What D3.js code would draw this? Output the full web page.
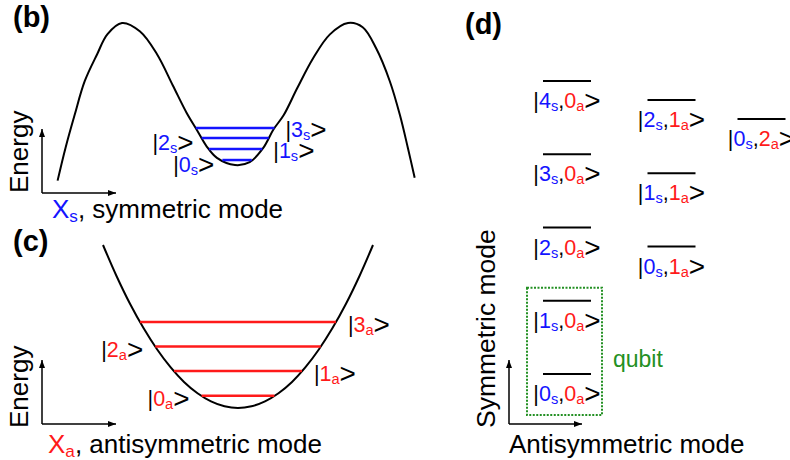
<!DOCTYPE html>
<html lang="en">
<head>
<meta charset="utf-8">
<style>
  body { margin: 0; background: #fff; }
  svg { display: block; background: #fff; }
  text { font-family: "Liberation Sans", Arial, sans-serif; }
</style>
<script src="https://cdn.jsdelivr.net/npm/d3@7/dist/d3.min.js"></script>
<title>Symmetric / antisymmetric modes</title>
</head>
<body>
<svg id="fig" width="790" height="460"></svg>
<script>
// (b) double-well potential of the symmetric mode
var wellX = [-1.57, -1.50, -1.42, -1.33, -1.22, -1.13, -1.00, -0.84, -0.69, -0.55, -0.43, -0.34, -0.25, -0.16, 0,
             0.13, 0.25, 0.34, 0.43, 0.55, 0.69, 0.84, 1.00, 1.13, 1.25, 1.37, 1.46, 1.53, 1.59];
var wellE = [-0.11, 0.12, 0.35, 0.59, 0.78, 0.92, 1.00, 0.94, 0.78, 0.56, 0.37, 0.25, 0.13, 0.05, 0,
             0.02, 0.12, 0.25, 0.35, 0.54, 0.75, 0.92, 1.00, 0.97, 0.82, 0.59, 0.35, 0.12, -0.09];
var symLevels = [0.035, 0.113, 0.19, 0.26];        // |0s> .. |3s>

// (c) harmonic potential of the antisymmetric mode (energy in units of hbar*w_a)
var bowlX = [-1, -0.9, -0.8, -0.7, -0.6, -0.5, -0.4, -0.3, -0.2, -0.1, 0, 0.1, 0.2, 0.3, 0.4, 0.5, 0.6, 0.7, 0.8, 0.9, 1];
var bowlE = [6.63, 5.37, 4.24, 3.25, 2.39, 1.66, 1.06, 0.60, 0.27, 0.07, 0, 0.07, 0.27, 0.60, 1.06, 1.66, 2.39, 3.25, 4.24, 5.37, 6.63];
var antiLevels = [0.5, 1.5, 2.5, 3.5];              // |0a> .. |3a>

// (d) two-mode states |ns, na>
var stateS = [0, 1, 2, 3, 4, 0, 1, 2, 0];
var stateA = [0, 0, 0, 0, 0, 1, 1, 1, 2];
var freqRatio = 1.74;                                // w_a / w_s

var BLUE = "#1414ff", RED = "#ff1a1a", GREEN = "#239023";
var KET = 21.5;

var svg = d3.select("#fig");

svg.append("defs").append("marker")
    .attr("id", "arr")
    .attr("markerUnits", "userSpaceOnUse")
    .attr("markerWidth", 9).attr("markerHeight", 8)
    .attr("refX", 8).attr("refY", 4)
    .attr("orient", "auto")
  .append("path")
    .attr("d", "M0,1 L8,4 L0,7 z")
    .attr("fill", "#000");

// writes a ket as one text element; parts = [text, colour, kind] with kind "sub" or "big"
function ket(g, x, y, parts, anchor) {
    var t = g.append("text")
        .attr("x", x).attr("y", y)
        .attr("text-anchor", anchor)
        .style("font-size", KET + "px");
    var shift = 0;
    parts.forEach(function(p) {
        var want = p[2] == "sub" ? 3 : (p[2] == "big" ? 2 : 0);
        var ts = t.append("tspan").attr("fill", p[1]).text(p[0]);
        if (want != shift) ts.attr("dy", want - shift);
        if (p[2] == "sub") ts.style("font-size", "0.68em");
        if (p[2] == "big") ts.style("font-size", "1.3em");
        shift = want;
    });
    return t;
}

// find where a level crosses the curve on each side of the minimum
function crossings(xs, es, e) {
    var m = es.indexOf(d3.min(es.slice(5, es.length - 5)));
    var lo, hi, i;
    for (i = m; i > 0; i--) {
        if (es[i - 1] >= e) { lo = xs[i] + (xs[i - 1] - xs[i]) * (e - es[i]) / (es[i - 1] - es[i]); break; }
    }
    for (i = m; i < xs.length - 1; i++) {
        if (es[i + 1] >= e) { hi = xs[i] + (xs[i + 1] - xs[i]) * (e - es[i]) / (es[i + 1] - es[i]); break; }
    }
    return [lo, hi];
}

function axesArrows(g, x0, y0, up, right) {
    g.append("line").attr("x1", x0).attr("y1", y0).attr("x2", x0).attr("y2", up)
        .attr("stroke", "#000").attr("stroke-width", 1.5).attr("marker-end", "url(#arr)");
    g.append("line").attr("x1", x0).attr("y1", y0).attr("x2", right).attr("y2", y0)
        .attr("stroke", "#000").attr("stroke-width", 1.5).attr("marker-end", "url(#arr)");
}

function panelTag(x, y, s) {
    svg.append("text").attr("x", x).attr("y", y)
        .style("font-size", "29px").style("font-weight", "bold").text(s);
}

// ---------- (b) ----------
var gb = svg.append("g");
var xB = d3.scaleLinear().domain([-1, 1]).range([122, 348]);
var yB = d3.scaleLinear().domain([0, 1]).range([165, 23]);

panelTag(13, 27, "(b)");

gb.append("path")
    .datum(d3.zip(wellX, wellE))
    .attr("fill", "none").attr("stroke", "#000").attr("stroke-width", 2)
    .attr("d", d3.line().x(function(d) { return xB(d[0]); }).y(function(d) { return yB(d[1]); })
        .curve(d3.curveCatmullRom));

symLevels.forEach(function(e, n) {
    var c = crossings(wellX, wellE, e);
    gb.append("line")
        .attr("x1", xB(c[0])).attr("x2", xB(c[1]))
        .attr("y1", yB(e)).attr("y2", yB(e))
        .attr("stroke", BLUE).attr("stroke-width", 2.5);
    var odd = n % 2 == 1;
    ket(gb, odd ? xB(c[1]) + 11 : xB(c[0]) - 8, yB(e) + (odd ? 9 : 12),
        [["|", "#000"], [String(n), BLUE], ["s", BLUE, "sub"], [">", "#000", "big"]],
        odd ? "start" : "end");
});

axesArrows(gb, 42, 193, 129, 116);
gb.append("text").attr("transform", "translate(28,193) rotate(-90)")
    .style("font-size", "26px").text("Energy");
var lb = gb.append("text").attr("x", 52).attr("y", 218).style("font-size", "26px");
lb.append("tspan").attr("fill", BLUE).text("X");
lb.append("tspan").attr("fill", BLUE).attr("dy", 4).style("font-size", "0.66em").text("s");
lb.append("tspan").attr("dy", -4).text(", symmetric mode");

// ---------- (c) ----------
var gc = svg.append("g");
var xC = d3.scaleLinear().domain([-1, 1]).range([103, 373]);
var yC = d3.scaleLinear().domain([0, 6.63]).range([408, 245]);

panelTag(13, 251, "(c)");

gc.append("path")
    .datum(d3.zip(bowlX, bowlE))
    .attr("fill", "none").attr("stroke", "#000").attr("stroke-width", 2)
    .attr("d", d3.line().x(function(d) { return xC(d[0]); }).y(function(d) { return yC(d[1]); })
        .curve(d3.curveCatmullRom));

antiLevels.forEach(function(e, n) {
    var c = crossings(bowlX, bowlE, e);
    gc.append("line")
        .attr("x1", xC(c[0])).attr("x2", xC(c[1]))
        .attr("y1", yC(e)).attr("y2", yC(e))
        .attr("stroke", RED).attr("stroke-width", 2.5);
    var odd = n % 2 == 1;
    ket(gc, odd ? xC(c[1]) + 12 : xC(c[0]) - 12, yC(e) + 10,
        [["|", "#000"], [String(n), RED], ["a", RED, "sub"], [">", "#000", "big"]],
        odd ? "start" : "end");
});

axesArrows(gc, 42, 424, 360, 116);
gc.append("text").attr("transform", "translate(28,428) rotate(-90)")
    .style("font-size", "26px").text("Energy");
var lc = gc.append("text").attr("x", 48).attr("y", 453).style("font-size", "26px");
lc.append("tspan").attr("fill", RED).text("X");
lc.append("tspan").attr("fill", RED).attr("dy", 4).style("font-size", "0.66em").text("a");
lc.append("tspan").attr("dy", -4).text(", antisymmetric mode");

// ---------- (d) ----------
var gd = svg.append("g");
var xD = d3.scaleLinear().domain([0, 1, 2]).range([567, 671.5, 761.5]);
var yD = d3.scaleLinear().domain([0, 4]).range([374, 81]);
var half = 24;

panelTag(465, 34, "(d)");

var states = d3.zip(stateS, stateA);
states.forEach(function(s) {
    var e = s[0] + freqRatio * s[1];
    var cx = xD(s[1]), cy = yD(e);
    gd.append("line")
        .attr("x1", cx - half).attr("x2", cx + half)
        .attr("y1", cy).attr("y2", cy)
        .attr("stroke", "#000").attr("stroke-width", 2);
    ket(gd, cx, cy + 27,
        [["|", "#000"], [String(s[0]), BLUE], ["s", BLUE, "sub"], [",", "#000"],
         [String(s[1]), RED], ["a", RED, "sub"], [">", "#000", "big"]],
        "middle");
});

// qubit subspace: |0s,0a> and |1s,0a>
var qTop = yD(1) - 13, qBot = yD(0) + 41;
gd.append("rect")
    .attr("x", xD(0) - 40).attr("y", qTop)
    .attr("width", 75).attr("height", qBot - qTop)
    .attr("fill", "none").attr("stroke", GREEN).attr("stroke-width", 2)
    .attr("stroke-dasharray", "2,1.5");
gd.append("text").attr("x", xD(0) + 46).attr("y", 367)
    .attr("fill", GREEN).style("font-size", "23px").text("qubit");

axesArrows(gd, 509, 424, 360, 582);
gd.append("text").attr("transform", "translate(495,428) rotate(-90)")
    .style("font-size", "26.5px").text("Symmetric mode");
gd.append("text").attr("x", 509).attr("y", 453)
    .style("font-size", "26px").text("Antisymmetric mode");
</script>
</body>
</html>
